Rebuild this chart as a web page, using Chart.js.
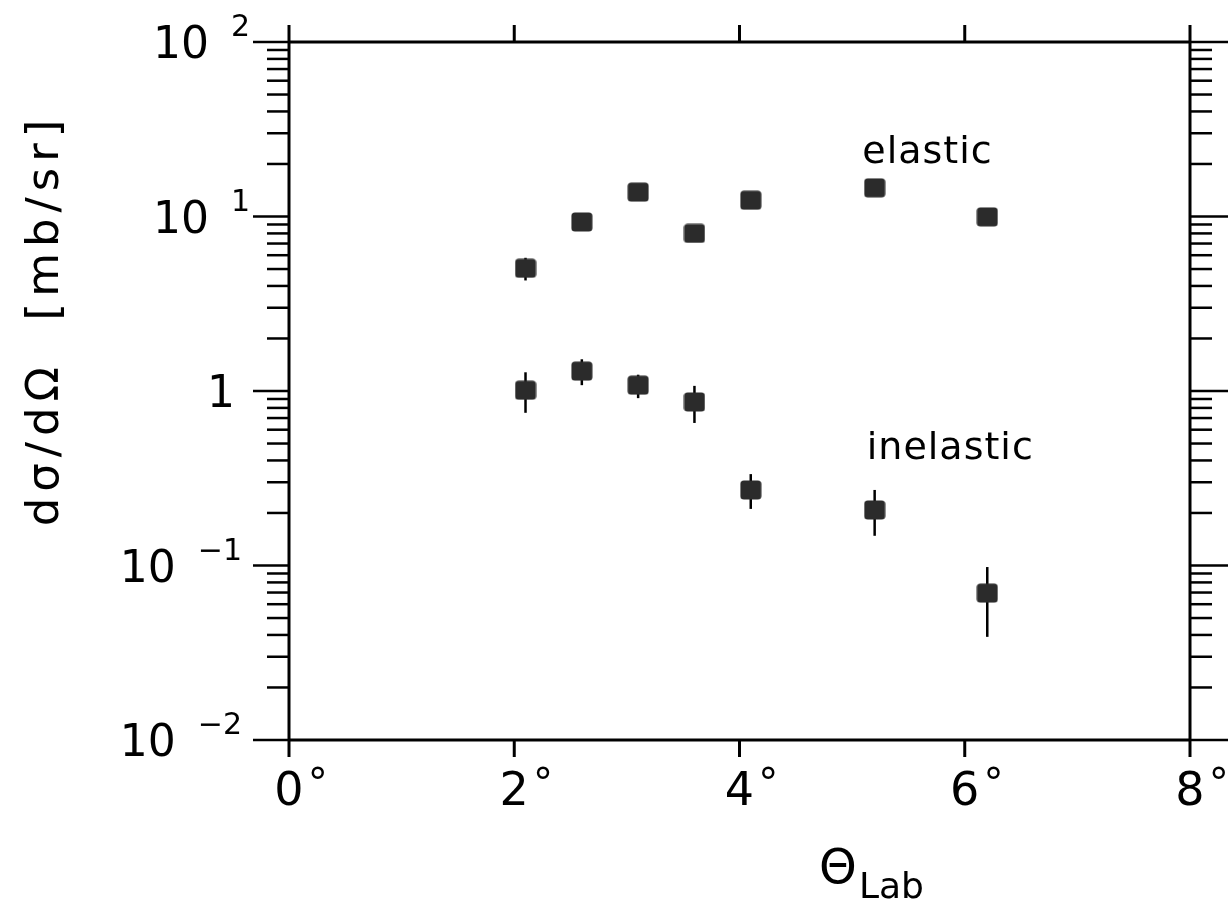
<!DOCTYPE html>
<html>
<head>
<meta charset="utf-8">
<script src="https://cdn.jsdelivr.net/npm/chart.js@4.4.1/dist/chart.umd.min.js"></script>
<style>
  html, body { margin: 0; padding: 0; background: #fff; }
  #wrap { position: relative; width: 1229px; height: 902px; }
</style>
</head>
<body>
<div id="wrap"><canvas id="xsec"></canvas></div>
<script>
// scattering angles (deg) and cross sections (mb/sr)
const angles = [2.1, 2.6, 3.1, 3.6, 4.1, 5.2, 6.2];
const elastic = [5.05, 9.3, 13.8, 8.0, 12.4, 14.6, 9.95];
const elasticLow = [4.3, 8.8, 13.1, 7.6, 11.8, 13.9, 9.45];
const elasticHigh = [5.8, 9.8, 14.5, 8.4, 13.0, 15.3, 10.45];
const inelastic = [1.01, 1.3, 1.08, 0.865, 0.271, 0.208, 0.0695];
const inelasticLow = [0.75, 1.08, 0.91, 0.656, 0.211, 0.148, 0.039];
const inelasticHigh = [1.28, 1.52, 1.24, 1.07, 0.334, 0.271, 0.098];

const xTicks = [0, 2, 4, 6, 8];
const xTickLabels = ["0", "2", "4", "6", "8"];
const yTicks = [0.01, 0.1, 1, 10, 100];
const yTickMantissa = ["10", "10", "1", "10", "10"];
const yTickExponent = ["\u22122", "\u22121", "", "1", "2"];

const FONT = '"DejaVu Sans", sans-serif';

function toPoints(xs, ys, lo, hi) {
  return xs.map((x, i) => ({ x: x, y: ys[i], lo: lo[i], hi: hi[i] }));
}

function makeMarker() {
  const c = document.createElement("canvas");
  c.width = 22;
  c.height = 20;
  const g = c.getContext("2d");
  g.fillStyle = "#2b2b2b";
  g.beginPath();
  g.roundRect(0.5, 0.5, 21, 19, 3.5);
  g.fill();
  return c;
}

const marker = makeMarker();

// vertical error bars, drawn under the markers
const errorBars = {
  id: "errorBars",
  beforeDatasetsDraw(chart) {
    const { ctx } = chart;
    const { x, y } = chart.scales;
    ctx.save();
    ctx.strokeStyle = "#000";
    ctx.lineWidth = 2.5;
    for (const ds of chart.data.datasets) {
      for (const p of ds.data) {
        const px = x.getPixelForValue(p.x);
        ctx.beginPath();
        ctx.moveTo(px, y.getPixelForValue(p.lo));
        ctx.lineTo(px, y.getPixelForValue(p.hi));
        ctx.stroke();
      }
    }
    ctx.restore();
  },
};

function line(ctx, x1, y1, x2, y2) {
  ctx.beginPath();
  ctx.moveTo(x1, y1);
  ctx.lineTo(x2, y2);
  ctx.stroke();
}

// frame, tick marks on all four sides, tick labels and titles
const frame = {
  id: "frame",
  afterDraw(chart) {
    const { ctx, chartArea } = chart;
    const { x, y } = chart.scales;
    const L = chartArea.left, R = chartArea.right;
    const T = chartArea.top, B = chartArea.bottom;
    ctx.save();
    ctx.strokeStyle = "#000";
    ctx.fillStyle = "#000";
    ctx.lineWidth = 3;

    line(ctx, L, T, R, T);
    line(ctx, L, B, R, B);
    line(ctx, L, T, L, B);
    line(ctx, R, T, R, B);

    // x ticks, outward top and bottom
    for (const v of xTicks) {
      const px = x.getPixelForValue(v);
      line(ctx, px, T - 17, px, T);
      line(ctx, px, B, px, B + 17);
    }

    // y ticks, log decades with minor 2..9
    ctx.lineWidth = 2.5;
    for (let d = -2; d <= 2; d++) {
      const base = Math.pow(10, d);
      const py = y.getPixelForValue(base);
      line(ctx, L - 36, py, L, py);
      line(ctx, R, py, R + 38, py);
      if (d === 2) continue;
      for (let m = 2; m <= 9; m++) {
        const my = y.getPixelForValue(base * m);
        line(ctx, L - 22, my, L, my);
        line(ctx, R, my, R + 22, my);
      }
    }

    // x tick labels with degree sign
    ctx.textBaseline = "alphabetic";
    xTicks.forEach((v, i) => {
      const px = x.getPixelForValue(v);
      ctx.font = "46px " + FONT;
      ctx.textAlign = "center";
      ctx.fillText(xTickLabels[i], px, B + 65);
      const w = ctx.measureText(xTickLabels[i]).width;
      ctx.textAlign = "left";
      ctx.font = "40px " + FONT;
      ctx.fillText("\u00b0", px + w / 2 + 4, B + 57);
    });

    // y tick labels: mantissa plus superscript exponent
    yTicks.forEach((v, i) => {
      const py = y.getPixelForValue(v);
      const exp = yTickExponent[i];
      let right = 250;
      if (exp) {
        ctx.font = "30px " + FONT;
        ctx.textAlign = "right";
        ctx.textBaseline = "alphabetic";
        if (exp.length > 1) right = 242;
        ctx.fillText(exp, right, py - 6);
        right -= ctx.measureText(exp).width + 22;
      } else {
        right = 235;
      }
      ctx.font = "44px " + FONT;
      ctx.textAlign = "right";
      ctx.textBaseline = "alphabetic";
      ctx.fillText(yTickMantissa[i], right, py + 16);
    });

    // curve labels
    ctx.font = "38px " + FONT;
    ctx.textAlign = "left";
    ctx.textBaseline = "alphabetic";
    ctx.letterSpacing = "1px";
    ctx.fillText("elastic", x.getPixelForValue(5.09), y.getPixelForValue(20.3));
    ctx.fillText("inelastic", x.getPixelForValue(5.13), y.getPixelForValue(0.407));

    // x axis title: Theta with subscript Lab
    ctx.letterSpacing = "0px";
    ctx.font = "48px " + FONT;
    ctx.fillText("\u0398", 819, 883);
    ctx.font = "36px " + FONT;
    ctx.fillText("Lab", 859, 898);

    // y axis title, rotated
    ctx.translate(46, 320);
    ctx.rotate(-Math.PI / 2);
    ctx.font = "45px " + FONT;
    ctx.letterSpacing = "6px";
    ctx.textAlign = "center";
    ctx.textBaseline = "middle";
    ctx.fillText("d\u03c3/d\u03a9  [mb/sr]", 0, 0);
    ctx.restore();
  },
};

const chartCanvas = document.querySelector("#xsec");

new Chart(chartCanvas, {
  type: "scatter",
  data: {
    datasets: [
      {
        label: "elastic",
        data: toPoints(angles, elastic, elasticLow, elasticHigh),
        pointStyle: marker,
        pointRadius: 10,
      },
      {
        label: "inelastic",
        data: toPoints(angles, inelastic, inelasticLow, inelasticHigh),
        pointStyle: marker,
        pointRadius: 10,
      },
    ],
  },
  options: {
    responsive: true,
    maintainAspectRatio: false,
    animation: false,
    layout: {
      padding: { left: 289, right: 39, top: 42, bottom: 162 },
    },
    plugins: {
      legend: { display: false },
      tooltip: { enabled: false },
    },
    scales: {
      x: { type: "linear", min: 0, max: 8, display: false },
      y: { type: "logarithmic", min: 0.01, max: 100, display: false },
    },
  },
  plugins: [errorBars, frame],
});
</script>
</body>
</html>
